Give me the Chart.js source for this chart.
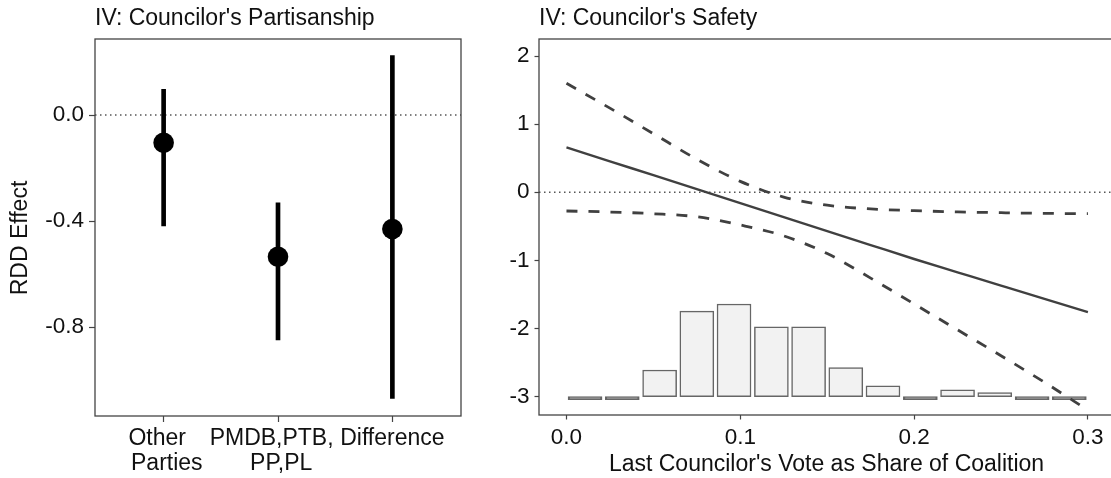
<!DOCTYPE html>
<html>
<head>
<meta charset="utf-8">
<script src="https://cdn.jsdelivr.net/npm/chart.js@4.4.1/dist/chart.umd.min.js"></script>
<style>
  html, body { margin: 0; padding: 0; background: #fff; overflow: hidden; }
  #wrap { position: relative; width: 1111px; height: 478px; overflow: hidden; }
  #left { position: absolute; left: 0; top: 0; }
  #right { position: absolute; left: 480px; top: 0; }
</style>
</head>
<body>
<div id="wrap">
  <canvas id="left" width="480" height="478"></canvas>
  <canvas id="right" width="640" height="478"></canvas>
</div>
<script>
// ===== partisanship panel =====
const PARTIES = [['Other  ', ' Parties'], ['PMDB,PTB,  ', ' PP,PL'], ['Difference']];
const PARTY_EST = [-0.105, -0.535, -0.43];
const PARTY_LO = [-0.419, -0.849, -1.069];
const PARTY_HI = [0.097, -0.331, 0.224];
const PARTY_TICKS = [0, -0.4, -0.8];

// ===== safety panel =====
const SHARE = [0, 0.025, 0.05, 0.075, 0.1, 0.125, 0.15, 0.175, 0.2, 0.225, 0.25, 0.275, 0.3];
const EFFECT = [0.66, 0.455, 0.25, 0.045, -0.16, -0.365, -0.57, -0.775, -0.98, -1.175, -1.37, -1.565, -1.76];
const EFFECT_HI = [1.6, 1.235, 0.86, 0.485, 0.16, -0.07, -0.19, -0.245, -0.27, -0.288, -0.3, -0.31, -0.315];
const EFFECT_LO = [-0.275, -0.29, -0.315, -0.36, -0.48, -0.64, -0.9, -1.26, -1.64, -2.02, -2.4, -2.79, -3.2];
const SAFETY_X_TICKS = [0, 0.1, 0.2, 0.3];
const SAFETY_Y_TICKS = [-3, -2, -1, 0, 1, 2];

// histogram of the running variable, drawn on top of the y = -3 line
const HIST_MID = [0.0107, 0.0321, 0.0536, 0.075, 0.0964, 0.1179, 0.1393, 0.1607, 0.1821, 0.2036, 0.225, 0.2464, 0.2679, 0.2893];
const HIST_HEIGHT = [0, 0, 0.39, 1.255, 1.36, 1.024, 1.024, 0.425, 0.16, 0, 0.1, 0.06, 0, 0];
const HIST_BASE = -3;

const FONT = "'Liberation Sans', Arial, sans-serif";
const TEXT = '#111';
const AXIS = '#444';
const LINE = '#404040';
const HIST_EDGE = '#666';

// panel border + title (and optional rotated y title)
const panelFrame = {
  id: 'panelFrame',
  afterDatasetsDraw(chart, args, opts) {
    const { ctx, chartArea: a } = chart;
    ctx.save();
    ctx.strokeStyle = AXIS;
    ctx.lineWidth = 1.3;
    ctx.strokeRect(a.left, a.top, a.right - a.left, a.bottom - a.top);
    ctx.restore();
  },
  afterDraw(chart, args, opts) {
    const { ctx, chartArea: a } = chart;
    ctx.save();
    ctx.fillStyle = TEXT;
    ctx.font = '23px ' + FONT;
    ctx.textBaseline = 'alphabetic';
    ctx.fillText(opts.title, a.left, 24.5);
    if (opts.yTitle) {
      ctx.translate(27, 238);
      ctx.rotate(-Math.PI / 2);
      ctx.textAlign = 'center';
      ctx.fillText(opts.yTitle, 0, 0);
    }
    ctx.restore();
  }
};

function tickGrid(len) {
  return { offset: false, drawOnChartArea: false, drawTicks: true, tickLength: len, tickColor: AXIS, tickWidth: 1.2 };
}

const common = {
  responsive: false,
  animation: false,
  events: [],
  plugins: { legend: { display: false }, tooltip: { enabled: false } }
};

new Chart(document.getElementById('left'), {
  type: 'scatter',
  plugins: [panelFrame],
  data: {
    datasets: [
      {
        type: 'line',
        data: [{ x: 0.4, y: 0 }, { x: 3.6, y: 0 }],
        borderColor: '#555', borderWidth: 1.3, borderDash: [1.5, 3.5],
        pointRadius: 0, order: 3
      },
      {
        type: 'bar',
        data: PARTY_LO.map((lo, i) => ({ x: i + 1, y: [lo, PARTY_HI[i]] })),
        backgroundColor: '#000', barThickness: 4, borderWidth: 0, order: 2
      },
      {
        type: 'scatter',
        data: PARTY_EST.map((v, i) => ({ x: i + 1, y: v })),
        pointRadius: 10.3, backgroundColor: '#000', borderWidth: 0, order: 1
      }
    ]
  },
  options: {
    ...common,
    layout: { padding: { top: 39, right: 19, left: 0, bottom: 0 } },
    plugins: { ...common.plugins, panelFrame: { title: "IV: Councilor's Partisanship", yTitle: 'RDD Effect' } },
    scales: {
      x: {
        type: 'linear', min: 0.4, max: 3.6, offset: false,
        afterBuildTicks: s => { s.ticks = PARTIES.map((_, i) => ({ value: i + 1 })); },
        afterFit: s => { s.height = 62; },
        grid: tickGrid(6),
        border: { display: false },
        ticks: {
          color: TEXT, font: { family: FONT, size: 23, lineHeight: 1.09 },
          padding: 4, maxRotation: 0, autoSkip: false,
          callback: v => PARTIES[v - 1]
        }
      },
      y: {
        type: 'linear', min: -1.1358, max: 0.2868,
        afterBuildTicks: s => { s.ticks = PARTY_TICKS.map(v => ({ value: v })); },
        afterFit: s => { s.width = 95; },
        grid: tickGrid(6),
        border: { display: false },
        ticks: { color: TEXT, font: { family: FONT, size: 22.5 }, padding: 5, callback: v => v.toFixed(1) }
      }
    }
  }
});

new Chart(document.getElementById('right'), {
  type: 'scatter',
  plugins: [panelFrame],
  data: {
    datasets: [
      {
        type: 'bar',
        data: HIST_MID.map((m, i) => ({ x: m, y: [HIST_BASE, HIST_BASE + HIST_HEIGHT[i]] })),
        // empty bins collapse to a flat outline
        backgroundColor: c => HIST_HEIGHT[c.dataIndex] === 0 ? HIST_EDGE : '#f2f2f2',
        borderColor: HIST_EDGE, borderWidth: 1.5,
        borderSkipped: false, barThickness: 34, minBarLength: 3, order: 5
      },
      {
        type: 'line',
        data: [{ x: -0.0158, y: 0 }, { x: 0.315, y: 0 }],
        borderColor: '#555', borderWidth: 1.3, borderDash: [1.5, 3.5],
        pointRadius: 0, order: 4
      },
      {
        type: 'line',
        data: SHARE.map((x, i) => ({ x, y: EFFECT_HI[i] })),
        borderColor: LINE, borderWidth: 2.8, borderDash: [11, 11],
        cubicInterpolationMode: 'monotone', pointRadius: 0, order: 2
      },
      {
        type: 'line',
        data: SHARE.map((x, i) => ({ x, y: EFFECT_LO[i] })),
        borderColor: LINE, borderWidth: 2.8, borderDash: [11, 11],
        cubicInterpolationMode: 'monotone', pointRadius: 0, order: 2
      },
      {
        type: 'line',
        data: SHARE.map((x, i) => ({ x, y: EFFECT[i] })),
        borderColor: LINE, borderWidth: 2.4,
        cubicInterpolationMode: 'monotone', pointRadius: 0, order: 1
      }
    ]
  },
  options: {
    ...common,
    layout: { padding: { top: 39, right: 6, left: 0, bottom: 0 } },
    plugins: { ...common.plugins, panelFrame: { title: "IV: Councilor's Safety" } },
    scales: {
      x: {
        type: 'linear', min: -0.0158, max: 0.315, offset: false,
        afterBuildTicks: s => { s.ticks = SAFETY_X_TICKS.map(v => ({ value: v })); },
        afterFit: s => { s.height = 63; },
        grid: tickGrid(4.5),
        border: { display: false },
        ticks: { color: TEXT, font: { family: FONT, size: 22.5 }, padding: 5, maxRotation: 0, callback: v => v.toFixed(1) },
        title: {
          display: true, text: "Last Councilor's Vote as Share of Coalition",
          color: TEXT, font: { family: FONT, size: 23, lineHeight: 1.1 }, padding: { top: 0, bottom: 0.5 }
        }
      },
      y: {
        type: 'linear', min: -3.27, max: 2.25,
        afterBuildTicks: s => { s.ticks = SAFETY_Y_TICKS.map(v => ({ value: v })); },
        afterFit: s => { s.width = 59; },
        grid: tickGrid(4.5),
        border: { display: false },
        ticks: { color: TEXT, font: { family: FONT, size: 22.5 }, padding: 5, callback: v => String(v) }
      }
    }
  }
});
</script>
</body>
</html>
